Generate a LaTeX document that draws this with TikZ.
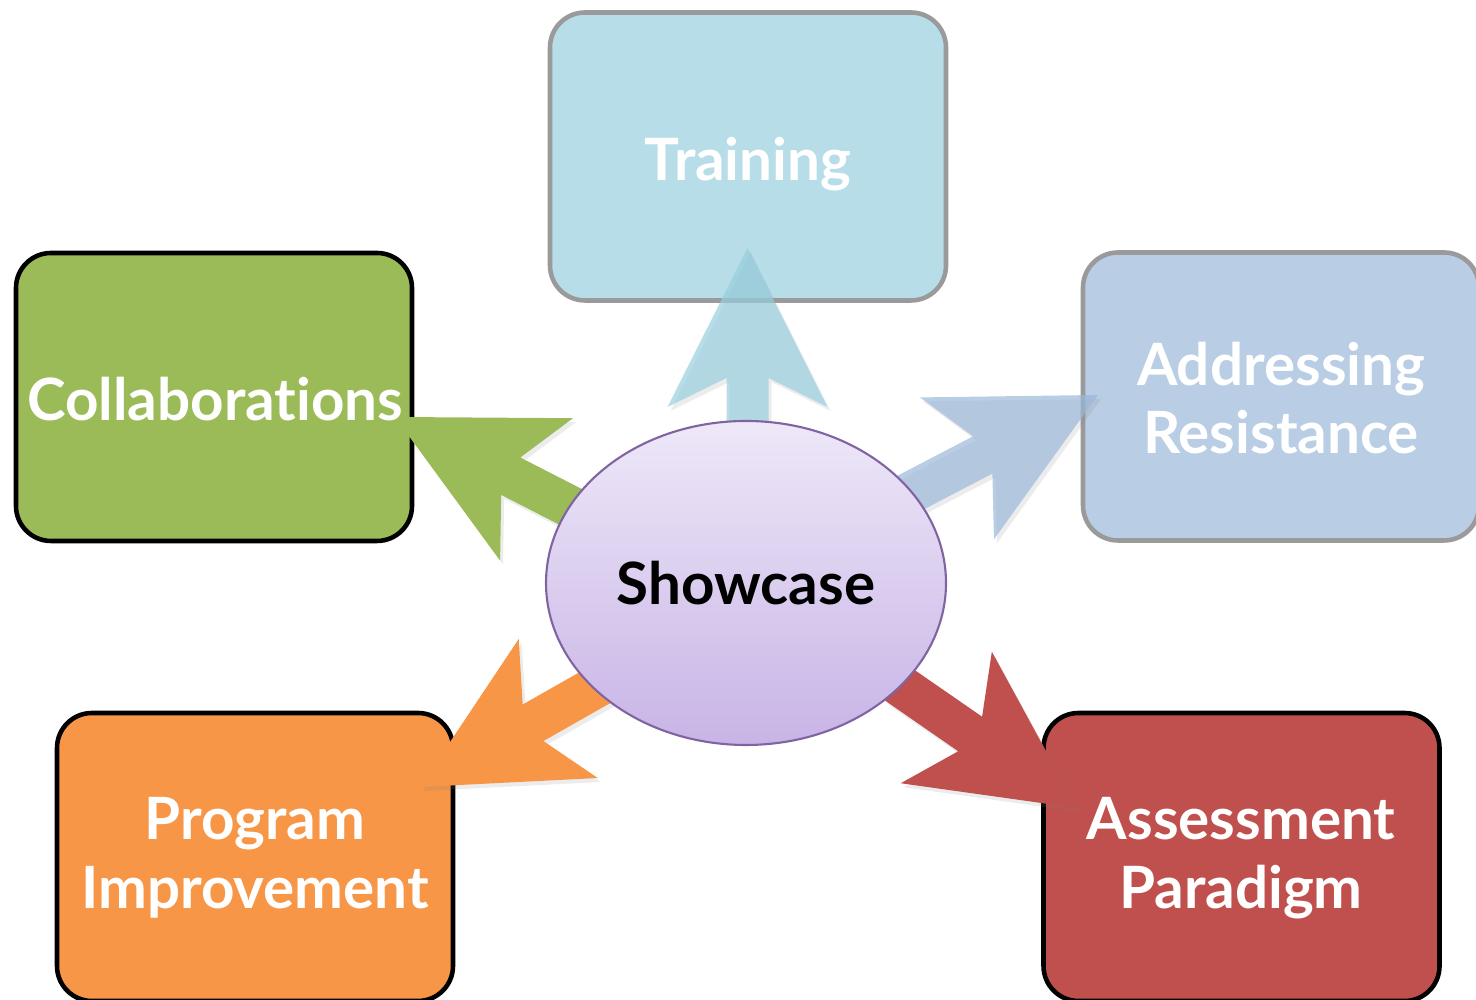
\documentclass[tikz,border=0pt]{standalone}
\usepackage{fontspec}
\setmainfont{Lato}[Ligatures=NoCommon]
\usetikzlibrary{shapes.geometric,shadows}

\definecolor{trainfill}{RGB}{183,221,232}
\definecolor{trainarrow}{RGB}{152,206,222}
\definecolor{resistfill}{RGB}{185,205,229}
\definecolor{resistarrow}{RGB}{155,184,218}
\definecolor{collabfill}{RGB}{155,187,89}
\definecolor{progfill}{RGB}{247,150,70}
\definecolor{assessfill}{RGB}{192,80,77}
\definecolor{showtop}{RGB}{238,232,248}
\definecolor{showbottom}{RGB}{200,180,230}
\definecolor{showline}{RGB}{128,100,162}
\definecolor{fadeline}{RGB}{154,154,154}

\newcommand{\blockarrow}[3]{%
  \fill[#3, shift={(#1)}, rotate=#2] (0,0) -- (-1.59,0.8) -- (-1.30,0.21) -- (-2.2,0.21)
    -- (-2.2,-0.21) -- (-1.30,-0.21) -- (-1.59,-0.8) -- cycle;}

\tikzset{
  box/.style={draw, line width=1.3pt, rounded corners=0.35cm, minimum width=3.96cm,
    minimum height=2.88cm, inner sep=0pt},
  fadebox/.style={box, draw=fadeline},
  boxfont/.style={font=\fontsize{16.6}{19.5}\selectfont\bfseries},
  boxtext/.style={boxfont, text=white, align=center},
  arrowshadow/.style={drop shadow={shadow xshift=0.03cm, shadow yshift=-0.04cm, opacity=0.15}}
}

\begin{document}
\begin{tikzpicture}
\useasboundingbox (0,0) rectangle (14.76,10);
\clip (0,0) rectangle (14.76,10);

\node [fadebox, fill=trainfill] (train) at (7.48,8.435) {};
\node [box, fill=collabfill] (collab) at (2.14,6.03) {};
\node [fadebox, fill=resistfill] (resist) at (12.81,6.035) {};
\node [box, fill=progfill] (prog) at (2.55,1.43) {};
\node [box, fill=assessfill] (assess) at (12.415,1.43) {};

\coordinate (traintip) at (7.475,7.52);
\coordinate (collabtip) at (3.95,5.83);
\coordinate (resisttip) at (10.98,6.05);
\coordinate (progtip) at (4.20,2.13);
\coordinate (assesstip) at (10.77,1.92);

\blockarrow{traintip}{90}{trainarrow, fill opacity=0.7, arrowshadow}
\blockarrow{collabtip}{152.9}{collabfill, arrowshadow}
\blockarrow{resisttip}{27.5}{resistarrow, fill opacity=0.7, arrowshadow}
\blockarrow{progtip}{209.6}{progfill, arrowshadow}
\blockarrow{assesstip}{-34.7}{assessfill, arrowshadow}

\node [ellipse, draw=showline, line width=0.6pt, top color=showtop, bottom color=showbottom,
  minimum width=4cm, minimum height=3.24cm, inner sep=0pt, boxfont] (show) at (7.46,4.17) {Showcase};

\node [boxtext] (traintext) at (7.48,8.36) {Training};
\node [boxtext] (collabtext) at (2.15,6.01) {Collaborations};
\node [boxtext] (resisttext) at (12.81,6.02) {Addressing\\Resistance};
\node [boxtext] (progtext) at (2.55,1.42) {Program\\Improvement};
\node [boxtext] (assesstext) at (12.41,1.42) {Assessment\\Paradigm};

\end{tikzpicture}
\end{document}
